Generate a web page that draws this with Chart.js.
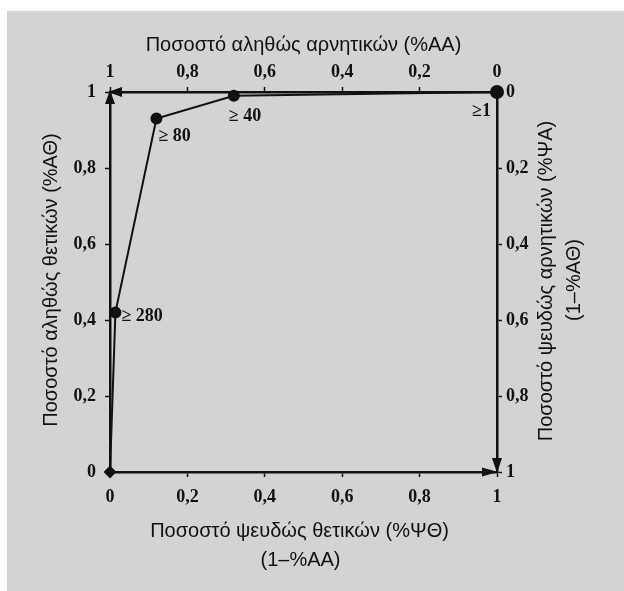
<!DOCTYPE html>
<html>
<head>
<meta charset="utf-8">
<script src="https://cdn.jsdelivr.net/npm/chart.js@4.4.1/dist/chart.umd.min.js"></script>
<style>
  html, body { margin: 0; padding: 0; background: #fff; }
  #wrap { position: relative; width: 624px; height: 591px; }
</style>
</head>
<body>
<div id="wrap"><canvas id="roc"></canvas></div>
<script>
/* ── Daten: ROC-Kurve ── */
const fpRate = [0, 0.014, 0.12, 0.32, 1];        // Ποσοστό ψευδώς θετικών
const tpRate = [0, 0.42, 0.93, 0.99, 1];         // Ποσοστό αληθώς θετικών
const cutoffLabels = ['', '≥ 280', '≥ 80', '≥ 40', '≥1'];
const axisTicks = [0, 0.2, 0.4, 0.6, 0.8, 1];

const titleTop = 'Ποσοστό αληθώς αρνητικών (%ΑΑ)';
const titleBottom = ['Ποσοστό ψευδώς θετικών (%ΨΘ)', '(1–%ΑΑ)'];
const titleLeft = 'Ποσοστό αληθώς θετικών (%ΑΘ)';
const titleRight = ['Ποσοστό ψευδώς αρνητικών (%ΨΑ)', '(1–%ΑΘ)'];

// label offsets relative to each point: [dx, dy, align]
const labelOffsets = [null, [6, 9, 'left'], [2, 22, 'left'], [-5, 25, 'left'], [-6, 24, 'right']];

const INK = '#111';
const tickFont = { family: 'Liberation Serif', size: 18, weight: 'bold' };

function fmtTick(v) {
  if (Math.abs(v) < 1e-9) return '0';
  if (Math.abs(v - 1) < 1e-9) return '1';
  return v.toFixed(1).replace('.', ',');
}

function axis(position, reverse, padding, size) {
  return {
    type: 'linear',
    position,
    reverse,
    min: 0,
    max: 1,
    afterBuildTicks: s => { s.ticks = axisTicks.map(v => ({ value: v })); },
    afterFit: s => {
      if (s.isHorizontal()) s.height = size; else s.width = size;
    },
    ticks: { color: INK, font: tickFont, padding, callback: fmtTick, autoSkip: false, maxRotation: 0 },
    grid: { drawOnChartArea: false, drawTicks: true, tickLength: 5, tickWidth: 1.5, tickColor: INK },
    border: { display: true, color: INK, width: 2.5 }
  };
}

const backgroundPlugin = {
  id: 'panel',
  beforeDraw(chart) {
    const c = chart.ctx;
    c.save();
    c.fillStyle = '#fff';
    c.fillRect(0, 0, chart.width, chart.height);
    c.fillStyle = '#d3d3d3';
    c.fillRect(7, 11, chart.width - 7, chart.height - 11);
    c.restore();
  }
};

const decorPlugin = {
  id: 'decor',
  afterDatasetsDraw(chart) {
    const c = chart.ctx;
    const xs = chart.scales.x, ys = chart.scales.y;
    const L = xs.getPixelForValue(0), R = xs.getPixelForValue(1);
    const T = ys.getPixelForValue(1), B = ys.getPixelForValue(0);
    c.save();
    c.fillStyle = INK;
    const tri = (p) => { c.beginPath(); c.moveTo(p[0], p[1]); c.lineTo(p[2], p[3]); c.lineTo(p[4], p[5]); c.closePath(); c.fill(); };
    // arrows at the top-left corner (up and left)
    tri([L, T - 2, L - 5, T + 12, L + 5, T + 12]);
    tri([L - 2, T, L + 12, T - 5, L + 12, T + 5]);
    // arrows at the bottom-right corner (right and down)
    tri([R + 1, B, R - 15, B - 4.5, R - 15, B + 4.5]);
    tri([R, B + 1, R - 5, B - 14, R + 5, B - 14]);

    // cutoff labels
    c.font = 'bold 18px "Liberation Serif"';
    c.textBaseline = 'alphabetic';
    const meta = chart.getDatasetMeta(0);
    cutoffLabels.forEach((txt, i) => {
      if (!txt) return;
      const pt = meta.data[i];
      const [dx, dy, align] = labelOffsets[i];
      c.textAlign = align;
      c.fillText(txt, pt.x + dx, pt.y + dy);
    });

    // axis titles
    const cx = (L + R) / 2, cy = (T + B) / 2;
    c.font = '20px "Liberation Sans"';
    c.textAlign = 'center';
    c.fillText(titleTop, cx, 51);
    c.fillText(titleBottom[0], cx - 4, 537);
    c.fillText(titleBottom[1], cx - 3, 566);

    const vert = (txt, x, y) => {
      c.save();
      c.translate(x, y);
      c.rotate(-Math.PI / 2);
      c.fillText(txt, 0, 0);
      c.restore();
    };
    vert(titleLeft, 57, cy - 2);
    vert(titleRight[0], 552, cy - 1);
    vert(titleRight[1], 580, cy - 2);
    c.restore();
  }
};

new Chart(document.getElementById('roc'), {
  type: 'scatter',
  data: {
    datasets: [{
      label: 'ROC',
      data: fpRate.map((x, i) => ({ x, y: tpRate[i] })),
      showLine: true,
      borderColor: INK,
      borderWidth: 2,
      backgroundColor: INK,
      pointBackgroundColor: INK,
      pointBorderColor: INK,
      pointStyle: ['rectRot', 'circle', 'circle', 'circle', 'circle'],
      pointRadius: [5, 5, 5, 5, 6],
      pointHoverRadius: 6,
      tension: 0,
      clip: false
    }]
  },
  options: {
    responsive: true,
    maintainAspectRatio: false,
    animation: false,
    layout: { padding: 0 },
    plugins: { legend: { display: false }, tooltip: { enabled: false } },
    scales: {
      x: axis('bottom', false, 10, 119),
      x2: axis('top', true, 4, 92),
      y: axis('left', false, 9, 110),
      y2: axis('right', true, 4, 127)
    }
  },
  plugins: [backgroundPlugin, decorPlugin]
});
</script>
</body>
</html>
